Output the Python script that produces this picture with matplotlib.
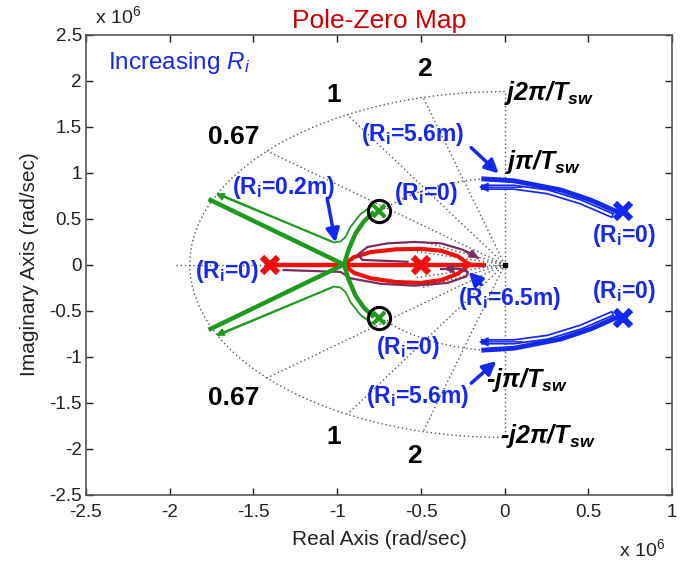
import numpy as np
import matplotlib
matplotlib.use('Agg')
import matplotlib.pyplot as plt
from matplotlib.patches import Arc

plt.rcParams['font.family'] = ['Liberation Sans', 'DejaVu Sans']
plt.rcParams['mathtext.fontset'] = 'custom'
plt.rcParams['mathtext.rm'] = 'Liberation Sans'
plt.rcParams['mathtext.it'] = 'Liberation Sans:italic'
plt.rcParams['mathtext.bf'] = 'Liberation Sans:bold'
plt.rcParams['mathtext.sf'] = 'Liberation Sans:italic'
plt.rcParams['mathtext.bfit'] = 'Liberation Sans:italic:bold'

# ---------------- data (units: 1e6 rad/s) ----------------
w_outer = 1.88          # 2*pi/Tsw
w_inner = 0.94          # pi/Tsw
radial_angles = [41, 60, 75]      # deg from negative real axis
radial_labels = ['0.67', '1', '2']

red_poles_x = [-1.40, -0.50]
red_line_x = [-1.40, -0.11]
red_upper_x = [-0.96, -0.90, -0.80, -0.65, -0.50, -0.38, -0.28, -0.21]
red_upper_y = [0.00, 0.08, 0.135, 0.165, 0.17, 0.15, 0.09, 0.00]
red_lower_x = [-0.96, -0.90, -0.80, -0.65, -0.50, -0.38, -0.28, -0.21]
red_lower_y = [0.00, -0.09, -0.15, -0.19, -0.20, -0.17, -0.10, 0.00]

purple_up_x = [-0.58, -0.85, -0.875, -0.82, -0.70, -0.54, -0.38, -0.25, -0.16]
purple_up_y = [0.03, 0.05, 0.11, 0.19, 0.23, 0.245, 0.23, 0.16, 0.07]
purple_lo_x = [-1.32, -0.98, -0.92, -0.74, -0.54, -0.34, -0.23, -0.22, -0.27, -0.38]
purple_lo_y = [-0.06, -0.08, -0.15, -0.21, -0.23, -0.20, -0.13, -0.08, -0.045, -0.05]

green_zero = (-0.753, 0.58)
green_branch_x = [-0.96, -1.756]
green_branch_y = [0.0, 0.70]
green_zb_x = [-0.96, -0.93, -0.89, -0.84, -0.79]
green_zb_y = [0.0, 0.17, 0.34, 0.47, 0.555]
green_thin_x = [-0.79, -0.86, -0.92, -0.95, -0.98, -1.02, -1.71]
green_thin_y = [0.64, 0.55, 0.41, 0.30, 0.25, 0.24, 0.77]

blue_pole = (0.705, 0.585)
blue_thick_x = [-0.125, 0.054, 0.335, 0.514, 0.675]
blue_thick_y = [0.93, 0.91, 0.81, 0.70, 0.57]
blue_thin_x = [0.633, 0.454, 0.257, 0.054, -0.125]
blue_thin_y = [0.54, 0.68, 0.79, 0.84, 0.84]

xtick_vals = [-2.5, -2, -1.5, -1, -0.5, 0, 0.5, 1]
xtick_text = ['-2.5', '-2', '-1.5', '-1', '-0.5', '0', '0.5', '1']
ytick_vals = [-2.5, -2, -1.5, -1, -0.5, 0, 0.5, 1, 1.5, 2, 2.5]
ytick_text = ['-2.5', '-2', '-1.5', '-1', '-0.5', '0', '0.5', '1', '1.5', '2', '2.5']

RED = '#f01010'
GREEN = '#1f9a1f'
BLUE = '#1428f0'
PURPLE = '#7a2e5e'
GRAY = '#555555'

fig = plt.figure(figsize=(6.93, 5.61), dpi=100)
ax = fig.add_axes([0.124, 0.1185, 0.846, 0.82])
ax.set_xlim(-2.5, 1)
ax.set_ylim(-2.5, 2.5)

# ---------------- dotted grid ----------------
dot = dict(color=GRAY, lw=1.0, ls=(0, (1, 2)))
ax.add_patch(Arc((0, 0), 2 * w_outer, 2 * w_outer, theta1=90, theta2=270, **dot))
ax.add_patch(Arc((0, 0), 2 * w_inner, 2 * w_inner, theta1=90, theta2=142, **dot))
ax.add_patch(Arc((0, 0), 2 * w_inner, 2 * w_inner, theta1=218, theta2=270, **dot))
for a in radial_angles:
    t = np.deg2rad(180 - a)
    for s in (1, -1):
        ax.plot([0, w_outer * np.cos(t)], [0, s * w_outer * np.sin(t)], **dot)
for a in (15, 27):
    t = np.deg2rad(180 - a)
    for s in (1, -1):
        ax.plot([0, 0.55 * np.cos(t)], [0, s * 0.55 * np.sin(t)], **dot)
ax.plot([-1.96, 0], [0, 0], **dot)
ax.plot([0, 0], [-w_outer + 0.02, w_outer - 0.02], **dot)
ax.plot([0], [0], marker='s', ms=2.5, color='black')

# ---------------- red / purple ----------------
ax.plot(red_line_x, [0, 0], color=RED, lw=3.2, solid_capstyle='butt')
ax.plot(red_upper_x, red_upper_y, color=RED, lw=3.0)
ax.plot(red_lower_x, red_lower_y, color=RED, lw=3.0)
ax.plot(purple_up_x, purple_up_y, color=PURPLE, lw=1.6)
ax.annotate('', xy=(purple_up_x[-1] + 0.02, purple_up_y[-1] - 0.01),
            xytext=(purple_up_x[-2], purple_up_y[-2]),
            arrowprops=dict(arrowstyle='-|>', color=PURPLE, lw=1.6, mutation_scale=12))
ax.plot(purple_lo_x, purple_lo_y, color=PURPLE, lw=1.6)
ax.annotate('', xy=(purple_lo_x[-1], purple_lo_y[-1]),
            xytext=(purple_lo_x[-2], purple_lo_y[-2]),
            arrowprops=dict(arrowstyle='-|>', color=PURPLE, lw=1.6, mutation_scale=12))
ax.plot(red_poles_x, [0, 0], ls='none', marker='x', ms=12, mew=4.5, color=RED)

# ---------------- green ----------------
for s in (1, -1):
    ax.plot(green_branch_x, [s * v for v in green_branch_y], color=GREEN, lw=3.2)
    ax.plot(green_zb_x, [s * v for v in green_zb_y], color=GREEN, lw=3.2)
    ax.plot(green_thin_x, [s * v for v in green_thin_y], color=GREEN, lw=1.3)
    ax.annotate('', xy=(green_thin_x[-1] - 0.03, s * (green_thin_y[-1] + 0.012)),
                xytext=(green_thin_x[-2], s * green_thin_y[-2]),
                arrowprops=dict(arrowstyle='-|>', color=GREEN, lw=1.3, mutation_scale=11))
    ax.plot([green_zero[0]], [s * green_zero[1]], ls='none', marker='o', ms=16,
            mfc='none', mec='black', mew=2.2)
    ax.plot([green_zero[0]], [s * green_zero[1]], ls='none', marker='x', ms=8,
            mew=3, color=GREEN)

# ---------------- blue ----------------
for s in (1, -1):
    ax.plot(blue_thick_x, [s * v for v in blue_thick_y], color=BLUE, lw=3.5)
    ax.plot(blue_thin_x, [s * v for v in blue_thin_y], color=BLUE, lw=4.0)
    ax.plot(blue_thin_x, [s * v for v in blue_thin_y], color='white', lw=1.5)
    ax.annotate('', xy=(blue_thin_x[-1] - 0.03, s * blue_thin_y[-1]),
                xytext=(blue_thin_x[-2] + 0.05, s * blue_thin_y[-2]),
                arrowprops=dict(arrowstyle='-|>', color=BLUE, lw=1.0, mutation_scale=14,
                                shrinkA=0, shrinkB=0))
    ax.plot([blue_pole[0]], [s * blue_pole[1]], ls='none', marker='x', ms=12, mew=4.5,
            color=BLUE)

# ---------------- annotation arrows ----------------
barrow = dict(arrowstyle='-|>', color=BLUE, lw=2.5, mutation_scale=20, shrinkA=0, shrinkB=0)
ax.annotate('', xy=(-0.036, 0.99), xytext=(-0.20, 1.27), arrowprops=barrow)
ax.annotate('', xy=(-0.05, -1.05), xytext=(-0.20, -1.29), arrowprops=barrow)
ax.annotate('', xy=(-1.01, 0.24), xytext=(-1.06, 0.72), arrowprops=barrow)
ax.annotate('', xy=(-0.215, -0.08), xytext=(-0.14, -0.22), arrowprops=barrow)

# ---------------- texts ----------------
bkw = dict(color=BLUE, fontsize=16.5, fontweight='bold', ha='center', va='center')
ax.text(-0.55, 1.41, r'(R$_\mathbf{i}$=5.6m)', **bkw)
ax.text(-0.52, -1.43, r'(R$_\mathbf{i}$=5.6m)', **bkw)
ax.text(-1.32, 0.84, r'(R$_\mathbf{i}$=0.2m)', **bkw)
ax.text(0.03, -0.37, r'(R$_\mathbf{i}$=6.5m)', **bkw)
ax.text(-1.66, -0.08, r'(R$_\mathbf{i}$=0)', **bkw)
ax.text(-0.47, 0.77, r'(R$_\mathbf{i}$=0)', **bkw)
ax.text(-0.58, -0.90, r'(R$_\mathbf{i}$=0)', **bkw)
ax.text(0.71, 0.31, r'(R$_\mathbf{i}$=0)', **bkw)
ax.text(0.71, -0.29, r'(R$_\mathbf{i}$=0)', **bkw)

ax.text(-2.37, 2.19, r'Increasing $\mathsf{R_i}$', color=BLUE, fontsize=17.5, va='center')

kkw = dict(color='black', fontsize=19, fontweight='bold', ha='center', va='center')
ax.text(-1.62, 1.39, radial_labels[0], **kkw)
ax.text(-1.02, 1.84, radial_labels[1], **kkw)
ax.text(-0.48, 2.12, radial_labels[2], **kkw)
ax.text(-1.62, -1.45, radial_labels[0], **kkw)
ax.text(-1.02, -1.88, radial_labels[1], **kkw)
ax.text(-0.54, -2.08, radial_labels[2], **kkw)

jkw = dict(color='black', fontsize=18, fontweight='bold', style='italic',
           ha='left', va='center')
ax.text(-0.006, 1.86, r'$\mathbfit{j2\pi/T_{sw}}$', **jkw)
ax.text(0.002, 1.11, r'$\mathbfit{j\pi/T_{sw}}$', **jkw)
ax.text(-0.11, -1.25, r'-$\mathbfit{j\pi/T_{sw}}$', **jkw)
ax.text(-0.03, -1.86, r'-$\mathbfit{j2\pi/T_{sw}}$', **jkw)

# ---------------- axes styling ----------------
ax.set_xticks(xtick_vals)
ax.set_xticklabels(xtick_text)
ax.set_yticks(ytick_vals)
ax.set_yticklabels(ytick_text)
ax.tick_params(direction='in', top=True, right=True, length=5, width=1,
               labelsize=13.5, colors='#222222', pad=3)
ax.tick_params(axis='x', pad=7)
for sp in ax.spines.values():
    sp.set_color('#555555')
    sp.set_linewidth(1.2)
ax.set_xlabel('Real Axis (rad/sec)', fontsize=15, color='#222222', labelpad=6)
ax.set_ylabel('Imaginary Axis (rad/sec)', fontsize=15, color='#222222', labelpad=7)
ax.set_title('Pole-Zero Map', color='#cc0000', fontsize=19, pad=5)
fig.text(0.137, 0.972, r'x 10$^{6}$', fontsize=14, color='#222222', va='center')
fig.text(0.893, 0.022, r'x 10$^{6}$', fontsize=14, color='#222222', va='center')

fig.savefig('out.png', dpi=100)
